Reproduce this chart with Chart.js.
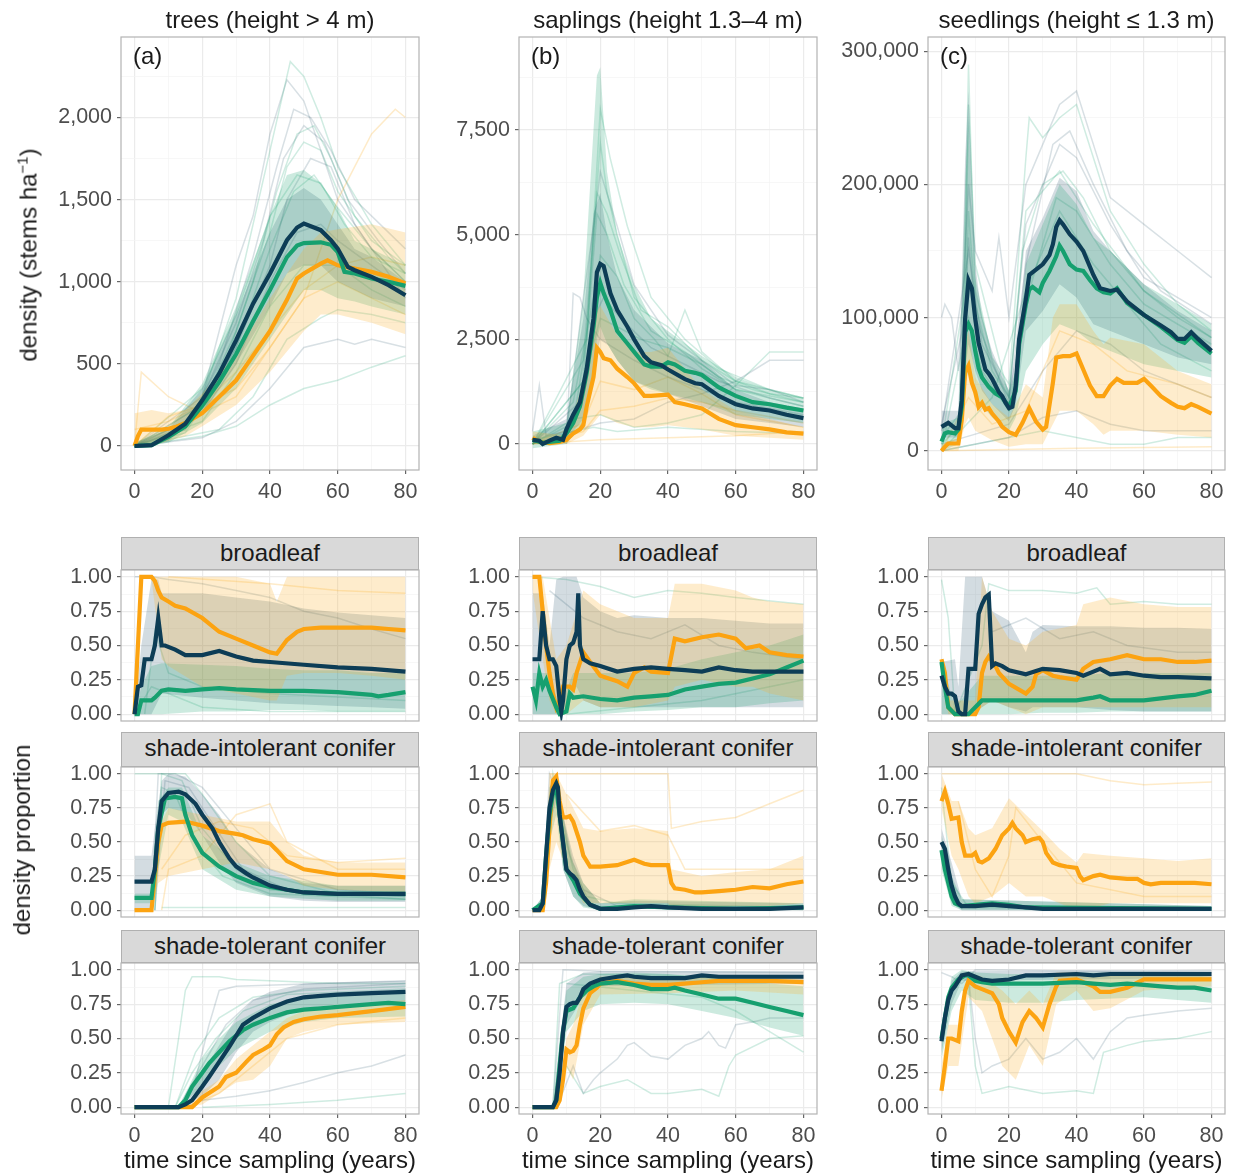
<!DOCTYPE html>
<html>
<head>
<meta charset="utf-8">
<script src="https://cdn.jsdelivr.net/npm/chart.js@4.4.1/dist/chart.umd.min.js"></script>
<style>
  body { margin: 0; background: #fff; font-family: "Liberation Sans", Arial, sans-serif; }
  #fig { position: relative; width: 1233px; height: 1176px; overflow: hidden; }
  canvas { position: absolute; }
  .txt { position: absolute; font-size: 24px; color: #1a1a1a; white-space: nowrap; line-height: 30px; }
  .ctr { text-align: center; }
  .strip { position: absolute; background: #d9d9d9; border: 1px solid #b0b0b0; box-sizing: border-box;
           font-size: 24px; color: #1a1a1a; text-align: center; line-height: 30px; }
  .rot { position: absolute; font-size: 24px; color: #1a1a1a; white-space: nowrap;
         transform: translate(-50%, -50%) rotate(-90deg); }
  sup { font-size: 15px; }
</style>
</head>
<body>
<div id="fig"></div>
<script>
// ---------- tick breaks ----------
const xMajor = [0, 20, 40, 60, 80];
const xMinor = [10, 30, 50, 70];
const treeMajor = [0, 500, 1000, 1500, 2000];
const treeMinor = [250, 750, 1250, 1750, 2250];
const saplingMajor = [0, 2500, 5000, 7500];
const saplingMinor = [1250, 3750, 6250, 8750];
const seedlingMajor = [0, 100000, 200000, 300000];
const seedlingMinor = [50000, 150000, 250000];
const propMajor = [0, 0.25, 0.5, 0.75, 1];
const propMinor = [0.125, 0.375, 0.625, 0.875];

const colTitles = ['trees (height > 4 m)', 'saplings (height 1.3–4 m)', 'seedlings (height ≤ 1.3 m)'];
const panelTags = ['(a)', '(b)', '(c)'];
const stripNames = ['broadleaf', 'shade-intolerant conifer', 'shade-tolerant conifer'];

// ---------- (a) trees: [year, value] ; bands [year, low, high] ----------
const treeOrange = [[0,0],[1,60],[2,100],[5,100],[8,100],[10,105],[12,115],[15,140],[20,200],[25,300],[30,400],[35,550],[40,700],[45,890],[48,1020],[50,1050],[55,1110],[57,1130],[60,1100],[65,1080],[70,1060],[75,1030],[80,990]];
const treeGreen = [[0,0],[5,5],[10,55],[15,120],[20,245],[25,390],[30,560],[35,760],[40,950],[45,1150],[48,1220],[50,1235],[55,1240],[58,1225],[60,1180],[62,1060],[65,1050],[70,1020],[75,1000],[80,975]];
const treeNavy = [[0,0],[5,5],[10,65],[15,136],[20,278],[25,440],[30,644],[35,867],[40,1050],[45,1253],[48,1330],[50,1354],[53,1330],[55,1314],[58,1253],[60,1202],[63,1090],[65,1070],[70,1030],[75,979],[80,918]];
const treeOrangeBand = [[0,0,200],[5,0,220],[10,30,200],[15,60,220],[20,120,320],[30,250,560],[40,450,900],[50,700,1200],[55,800,1300],[60,800,1320],[70,750,1350],[80,680,1300]];
const treeGreenBand = [[0,-10,20],[10,20,110],[20,140,380],[30,350,850],[40,650,1400],[45,800,1650],[50,950,1680],[55,950,1600],[60,900,1450],[65,880,1250],[70,850,1200],[80,800,1100]];
const treeNavyBand = [[0,-10,20],[10,30,100],[20,200,350],[30,500,800],[40,850,1300],[45,1050,1500],[50,1100,1570],[55,1100,1500],[60,1000,1350],[65,950,1200],[70,900,1150],[80,850,1000]];
const treeThin = [
  ['g', [[0,0],[15,100],[20,300],[30,900],[40,1800],[46,2340],[50,2250],[55,2000],[60,1700],[70,1350],[80,1100]]],
  ['n', [[0,0],[15,120],[20,300],[30,1100],[35,1400],[40,1900],[45,2230],[50,2100],[55,1800],[60,1500],[70,1200],[80,1000]]],
  ['g', [[0,0],[20,250],[30,700],[40,1300],[45,1700],[50,1850],[55,1800],[60,1550],[70,1250],[80,1100]]],
  ['o', [[0,0],[2,450],[10,300],[20,200],[30,300],[40,600],[50,900],[60,1500],[70,1900],[77,2050],[80,2000]]],
  ['n', [[0,0],[20,50],[30,150],[40,350],[50,600],[60,650],[65,620],[70,650],[80,600]]],
  ['g', [[0,0],[20,60],[30,120],[40,250],[50,350],[60,400],[70,480],[80,550]]],
  ['g', [[0,0],[25,100],[35,300],[45,650],[55,780],[60,830],[70,800],[80,750]]],
  ['n', [[0,0],[20,250],[30,600],[40,1100],[45,1500],[52,1750],[58,1700],[65,1350],[80,900]]],
  ['o', [[0,0],[10,180],[20,250],[30,350],[40,600],[50,900],[60,1000],[70,900],[80,800]]],
  ['g', [[0,0],[20,350],[30,800],[40,1400],[48,1650],[55,1600],[62,1350],[70,1150],[80,1050]]],
  ['n', [[0,0],[20,200],[30,500],[40,1000],[48,1300],[55,1350],[60,1250],[70,1100],[80,950]]],
  ['g', [[0,0],[15,80],[25,400],[35,1000],[42,1550],[48,1900],[53,1950],[58,1750],[65,1400],[75,1150],[80,1050]]],
  ['n', [[0,0],[15,100],[25,500],[35,1150],[42,1700],[47,2050],[52,2000],[58,1800],[65,1500],[80,1200]]],
  ['g', [[0,0],[20,200],[30,600],[40,1200],[47,1550],[53,1650],[60,1450],[70,1200],[80,1000]]],
  ['o', [[0,100],[10,150],[20,250],[30,450],[40,700],[50,950],[60,1100],[70,1150],[80,1100]]],
  ['g', [[0,0],[20,150],[30,450],[40,850],[50,1100],[60,1100],[70,950],[80,850]]],
  ['n', [[0,0],[20,300],[30,750],[38,1250],[44,1750],[50,1950],[56,1850],[63,1500],[72,1250],[80,1050]]]
];

// ---------- (b) saplings ----------
const saplingOrange = [[0,150],[2,50],[5,20],[8,50],[10,100],[12,250],[14,350],[15,450],[16,900],[18,1600],[19,2300],[20,2200],[21,2050],[23,2000],[25,1800],[28,1600],[30,1450],[33,1150],[35,1150],[38,1170],[40,1180],[42,1000],[45,950],[50,850],[55,600],[60,450],[65,400],[70,350],[75,280],[80,250]];
const saplingGreen = [[0,100],[3,30],[5,50],[8,80],[10,250],[12,500],[14,900],[16,1700],[18,2800],[19,3500],[20,3850],[21,3600],[23,3200],[25,2700],[28,2400],[30,2200],[33,1900],[35,1850],[38,1850],[40,1950],[42,1900],[45,1750],[48,1700],[50,1650],[55,1350],[60,1150],[65,1000],[70,950],[75,870],[80,800]];
const saplingNavy = [[0,100],[2,80],[3,0],[5,80],[7,150],[9,100],[10,350],[12,700],[14,1000],[16,1800],[17,2400],[18,3000],[19,4100],[20,4300],[21,4250],[23,3600],[25,3200],[28,2800],[30,2500],[33,2100],[35,1950],[38,1880],[40,1780],[45,1550],[48,1450],[50,1430],[55,1150],[60,950],[65,850],[70,800],[75,700],[80,620]];
const saplingOrangeBand = [[0,0,300],[10,0,200],[15,200,1500],[18,500,3000],[20,700,3300],[25,500,2600],[30,400,2200],[35,400,2200],[40,450,2300],[45,400,1800],[50,350,1300],[60,200,800],[70,150,600],[80,100,400]];
const saplingGreenBand = [[0,-100,300],[10,0,500],[15,500,3500],[18,1500,7500],[19,2500,8800],[20,2800,9000],[22,2400,6500],[25,2000,5000],[30,1500,3800],[35,1300,3000],[40,1200,2700],[50,1000,2100],[60,700,1600],[70,600,1300],[80,500,1100]];
const saplingNavyBand = [[0,0,200],[10,100,600],[15,600,3000],[18,1800,5500],[20,2500,6000],[22,2400,5000],[25,2000,4000],[30,1500,3200],[40,1200,2400],[50,900,2000],[60,600,1300],[70,500,1000],[80,400,850]];
const saplingThin = [
  ['g', [[0,0],[15,2000],[18,5000],[20,7200],[22,6000],[25,5000],[30,3500],[40,2500],[50,1800],[60,1300],[80,1000]]],
  ['n', [[0,300],[2,1400],[4,200],[10,300],[15,3500],[18,5200],[20,6500],[25,5200],[30,3800],[40,2600],[50,2000],[60,1400],[70,1300],[80,1000]]],
  ['g', [[0,0],[12,1000],[18,3500],[20,4500],[25,4000],[30,3000],[36,2500],[40,2100],[45,3200],[50,2200],[60,1500],[70,1200],[80,1100]]],
  ['n', [[0,0],[20,500],[30,600],[40,1000],[50,1200],[60,1500],[70,2000],[80,2000]]],
  ['g', [[0,0],[12,600],[20,700],[30,400],[40,500],[50,700],[60,1400],[70,2200],[80,2200]]],
  ['o', [[0,0],[20,100],[40,150],[60,200],[80,300]]],
  ['n', [[10,0],[12,3600],[14,3500],[16,3000],[20,2500],[30,2000],[40,1600],[60,1000],[80,700]]],
  ['g', [[0,100],[18,400],[25,300],[40,400],[60,300],[80,250]]],
  ['g', [[0,0],[15,1500],[19,6000],[22,5500],[26,4500],[32,3200],[40,2800],[50,2000],[60,1500],[80,1100]]],
  ['o', [[0,0],[15,500],[20,1500],[30,1300],[40,1600],[50,1200],[60,700],[80,400]]],
  ['g', [[0,0],[12,500],[16,2500],[19,5500],[22,5000],[27,3800],[35,2700],[45,2200],[55,1600],[65,1300],[80,1000]]],
  ['n', [[0,0],[14,1000],[18,3000],[21,3500],[26,3000],[35,2300],[45,1900],[55,1500],[70,1100],[80,900]]],
  ['g', [[0,0],[15,1500],[20,3000],[25,2800],[32,2500],[40,2300],[50,1900],[60,1300],[70,1100],[80,900]]],
  ['o', [[0,0],[15,300],[20,800],[30,900],[40,1100],[50,1000],[60,800],[80,500]]],
  ['g', [[0,0],[16,2500],[20,8000],[23,6800],[28,5200],[35,3500],[45,2500],[55,1800],[70,1300],[80,1100]]]
];

// ---------- (c) seedlings ----------
const seedlingOrange = [[0,0],[1,3000],[2,5500],[5,5500],[6,23000],[7,59000],[8,64000],[9,51000],[10,44000],[11,33000],[12,36000],[13,31000],[14,32000],[15,28000],[16,25000],[17,22000],[18,18000],[20,14000],[22,12000],[24,21000],[26,32000],[28,22000],[30,16000],[31,18000],[33,51000],[34,70000],[36,71000],[38,71000],[40,73000],[42,61000],[44,49000],[46,41000],[48,41000],[50,49000],[52,54000],[54,51000],[56,51000],[58,51000],[60,54000],[62,49000],[65,41000],[68,36000],[70,33000],[72,32000],[74,35000],[76,33000],[80,28000]];
const seedlingGreen = [[0,7000],[1,13000],[2,14000],[4,13000],[5,16000],[6,33000],[7,89000],[8,95000],[9,90000],[10,75000],[11,62000],[12,55000],[14,48000],[16,43000],[18,40000],[20,33000],[22,45000],[23,80000],[25,110000],[26,121000],[27,123000],[28,121000],[29,119000],[30,126000],[32,135000],[34,146000],[35,154000],[36,150000],[38,140000],[40,136000],[42,135000],[44,128000],[46,122000],[48,119000],[50,118000],[52,122000],[55,111000],[60,102000],[65,93000],[70,83000],[72,81000],[74,86000],[76,81000],[80,73000]];
const seedlingNavy = [[0,18000],[2,21000],[4,17000],[5,17000],[6,38000],[7,99000],[8,128000],[9,122000],[10,99000],[11,81000],[12,71000],[13,61000],[14,58000],[15,54000],[16,49000],[17,44000],[18,41000],[19,36000],[20,32000],[21,33000],[22,49000],[23,84000],[25,114000],[26,132000],[28,136000],[30,140000],[32,147000],[33,155000],[34,168000],[35,173000],[36,170000],[38,162500],[40,157000],[42,150000],[45,132000],[47,122000],[50,120000],[52,121000],[55,112000],[60,102000],[65,94000],[68,89000],[70,84000],[72,84000],[74,89000],[76,84000],[80,75000]];
const seedlingOrangeBand = [[0,0,5000],[5,0,10000],[7,20000,80000],[8,25000,90000],[10,15000,55000],[15,8000,35000],[20,3000,25000],[25,5000,50000],[30,5000,40000],[33,20000,100000],[35,30000,110000],[40,30000,110000],[45,20000,90000],[48,12000,80000],[50,15000,85000],[60,15000,80000],[70,12000,60000],[80,10000,50000]];
const seedlingGreenBand = [[0,0,20000],[5,5000,25000],[7,50000,200000],[8,60000,250000],[9,50000,180000],[10,40000,130000],[15,25000,70000],[20,15000,45000],[22,25000,60000],[25,60000,140000],[30,80000,170000],[35,95000,200000],[40,90000,185000],[45,80000,160000],[50,75000,150000],[60,65000,125000],[70,60000,110000],[80,55000,95000]];
const seedlingNavyBand = [[0,10000,30000],[5,10000,30000],[7,60000,220000],[8,80000,270000],[9,70000,200000],[10,60000,140000],[12,45000,100000],[15,35000,75000],[20,22000,45000],[22,35000,70000],[25,90000,150000],[30,105000,175000],[35,125000,205000],[40,115000,195000],[45,95000,165000],[50,90000,150000],[60,80000,125000],[70,70000,105000],[80,65000,90000]];
const seedlingThin = [
  ['n', [[0,100000],[1,110000],[3,100000],[5,60000],[7,150000],[8,200000],[10,150000],[15,120000],[17,160000],[20,100000],[25,200000],[30,230000],[35,260000],[40,270000],[45,230000],[50,190000],[60,170000],[70,150000],[80,130000]]],
  ['g', [[0,10000],[6,30000],[8,290000],[9,200000],[10,120000],[15,70000],[20,50000],[25,220000],[26,250000],[30,235000],[35,250000],[40,260000],[45,220000],[50,180000],[60,140000],[70,110000],[80,90000]]],
  ['n', [[0,15000],[8,150000],[12,80000],[20,40000],[25,170000],[30,200000],[35,230000],[40,220000],[50,170000],[60,130000],[80,100000]]],
  ['g', [[0,0],[10,5000],[20,10000],[30,15000],[40,10000],[50,5000],[60,5000],[70,10000],[80,10000]]],
  ['n', [[0,0],[20,10000],[30,25000],[40,30000],[50,20000],[60,15000],[80,15000]]],
  ['o', [[0,0],[40,2000],[80,3000]]],
  ['g', [[0,0],[15,40000],[25,120000],[35,180000],[45,140000],[55,110000],[65,80000],[80,60000]]],
  ['g', [[0,5000],[7,120000],[8,260000],[10,140000],[20,40000],[25,180000],[35,210000],[45,170000],[60,120000],[80,85000]]],
  ['n', [[0,5000],[20,20000],[30,60000],[40,90000],[50,80000],[60,60000],[80,40000]]],
  ['g', [[0,5000],[6,20000],[8,180000],[10,110000],[15,60000],[20,40000],[24,150000],[30,200000],[36,210000],[42,190000],[50,150000],[60,120000],[70,100000],[80,85000]]],
  ['n', [[0,20000],[7,100000],[8,160000],[10,100000],[20,35000],[25,140000],[33,230000],[38,240000],[45,200000],[55,150000],[65,120000],[80,95000]]],
  ['g', [[0,0],[8,100000],[12,60000],[20,30000],[26,120000],[34,190000],[40,180000],[50,140000],[60,110000],[80,80000]]],
  ['o', [[0,0],[8,40000],[15,20000],[25,30000],[35,90000],[45,80000],[55,60000],[70,50000],[80,40000]]]
];

// ---------- broadleaf proportions ----------
const blTreeOrange = [[0,0],[1,0.5],[2,1],[5,1],[6,0.97],[7,0.9],[8,0.85],[10,0.82],[12,0.79],[15,0.77],[20,0.7],[25,0.6],[30,0.55],[35,0.5],[40,0.45],[42,0.44],[45,0.54],[48,0.6],[50,0.62],[55,0.63],[60,0.63],[70,0.63],[75,0.62],[80,0.61]];
const blTreeGreen = [[0,0],[1,0],[2,0.1],[5,0.1],[6,0.12],[8,0.17],[10,0.18],[15,0.17],[20,0.18],[25,0.19],[30,0.18],[40,0.17],[50,0.17],[60,0.16],[70,0.14],[72,0.13],[75,0.14],[80,0.16]];
const blTreeNavy = [[0,0],[1,0.2],[2,0.21],[3,0.4],[5,0.4],[6,0.5],[7,0.7],[8,0.5],[9,0.5],[12,0.47],[15,0.43],[20,0.43],[25,0.46],[30,0.42],[35,0.39],[40,0.38],[50,0.36],[60,0.34],[70,0.33],[80,0.31]];
const blTreeOrangeBand = [[0,0,0],[2,1,1],[5,0.98,1],[8,0.4,1],[10,0.35,1],[20,0.2,1],[30,0.15,1],[40,0.1,0.95],[42,0.1,0.82],[45,0.28,1],[50,0.3,1],[60,0.3,1],[70,0.28,1],[80,0.25,1]];
const blTreeGreenBand = [[0,0,0],[2,0,0.2],[5,0,0.35],[8,0,0.37],[20,0.02,0.36],[30,0.02,0.35],[40,0.03,0.33],[50,0.03,0.32],[60,0.02,0.32],[70,0.02,0.3],[80,0.02,0.3]];
const blTreeNavyBand = [[0,0,0],[2,0,0.5],[5,0,0.98],[7,0.1,0.98],[8,0.15,0.88],[20,0.12,0.88],[30,0.1,0.85],[40,0.08,0.82],[50,0.07,0.77],[60,0.06,0.74],[70,0.05,0.72],[80,0.04,0.7]];
const blTreeThin = [
  ['n', [[0,1],[5,1],[10,0.98],[20,0.95],[30,0.9],[40,0.85],[50,0.75],[60,0.7],[70,0.62],[80,0.55]]],
  ['g', [[0,0],[5,0.2],[10,0.15],[20,0.05],[40,0.02],[80,0.02]]],
  ['o', [[10,1],[40,0.95],[60,0.9],[80,0.88]]],
  ['g', [[3,0],[6,0.6],[10,0.3],[20,0.2],[40,0.15],[80,0.1]]]
];

const blSaplingOrange = [[0,1],[2,1],[3,0.75],[4,0.5],[5,0.3],[6,0.15],[7,0.05],[8,0.1],[9,0.2],[11,0.2],[12,0.18],[13,0.3],[15,0.45],[17,0.38],[20,0.28],[25,0.24],[28,0.2],[30,0.3],[33,0.34],[35,0.31],[40,0.3],[42,0.55],[45,0.53],[50,0.56],[55,0.58],[60,0.55],[63,0.48],[67,0.5],[70,0.45],[75,0.43],[80,0.42]];
const blSaplingGreen = [[0,0.2],[1,0.1],[2,0.3],[3,0.2],[4,0.25],[5,0.17],[7,0.05],[8,0],[10,0.02],[11,0.15],[12,0.12],[15,0.13],[20,0.11],[25,0.1],[30,0.12],[35,0.13],[40,0.14],[45,0.18],[50,0.2],[55,0.22],[60,0.23],[65,0.26],[70,0.29],[75,0.34],[80,0.39]];
const blSaplingNavy = [[0,0.4],[2,0.4],[3,0.75],[4,0.5],[5,0.4],[6,0.4],[7,0.35],[8,0.1],[8.5,0.02],[9,0.1],[10,0.4],[11,0.5],[12,0.52],[13,0.6],[13.5,0.88],[14,0.5],[15,0.4],[17,0.37],[20,0.35],[25,0.31],[30,0.33],[35,0.34],[40,0.33],[45,0.32],[50,0.31],[55,0.34],[60,0.32],[65,0.31],[70,0.31],[80,0.31]];
const blSaplingOrangeBand = [[0,0.9,1],[3,0.4,1],[5,0.1,0.7],[7,0,0.4],[10,0,0.5],[15,0.1,0.9],[20,0.05,0.8],[30,0.05,0.7],[40,0.1,0.7],[42,0.2,0.95],[50,0.25,0.95],[60,0.2,0.9],[65,0.2,0.85],[70,0.15,0.82],[80,0.1,0.8]];
const blSaplingGreenBand = [[0,0,0.3],[5,0,0.3],[8,0,0.05],[12,0,0.3],[20,0,0.3],[30,0.02,0.3],[40,0.03,0.33],[50,0.05,0.4],[60,0.05,0.45],[70,0.08,0.5],[80,0.1,0.58]];
const blSaplingNavyBand = [[0,0,0.88],[3,0,0.88],[5,0,0.5],[7,0,0.98],[9,0,1],[13,0.2,1],[15,0.1,0.85],[20,0.05,0.75],[25,0.05,0.7],[30,0.05,0.72],[40,0.05,0.7],[50,0.05,0.7],[60,0.05,0.68],[70,0.05,0.66],[80,0.05,0.66]];
const blSaplingThin = [
  ['g', [[0,1],[10,0.98],[20,0.93],[30,0.85],[40,0.9],[50,0.88],[60,0.85],[80,0.8]]],
  ['n', [[5,0.9],[15,0.7],[25,0.6],[35,0.55],[45,0.65],[55,0.5],[65,0.45],[80,0.4]]],
  ['g', [[10,0],[30,0.05],[50,0.1],[70,0.2],[80,0.25]]]
];

const blSeedlingOrange = [[0,0.4],[1,0.3],[2,0.05],[4,0],[6,0],[10,0],[11,0.05],[12,0.3],[13,0.38],[14,0.42],[16,0.35],[17,0.3],[20,0.22],[25,0.15],[27,0.2],[28,0.29],[30,0.32],[33,0.28],[35,0.27],[40,0.25],[42,0.33],[45,0.38],[50,0.4],[55,0.43],[60,0.4],[65,0.4],[70,0.38],[75,0.38],[80,0.39]];
const blSeedlingGreen = [[0,0.38],[1,0.2],[2,0.05],[4,0],[8,0],[10,0.05],[12,0.1],[15,0.1],[20,0.1],[30,0.1],[40,0.1],[45,0.12],[47,0.13],[50,0.1],[60,0.1],[70,0.13],[75,0.14],[80,0.17]];
const blSeedlingNavy = [[0,0.28],[1,0.2],[2,0.15],[3,0.15],[4,0.13],[5,0.02],[6,0],[7,0],[8,0.33],[10,0.33],[11,0.73],[12,0.8],[13,0.85],[14,0.87],[15,0.35],[16,0.37],[18,0.35],[20,0.32],[25,0.29],[30,0.33],[35,0.32],[40,0.3],[42,0.28],[45,0.31],[47,0.33],[50,0.29],[55,0.3],[60,0.28],[65,0.27],[70,0.27],[80,0.26]];
const blSeedlingOrangeBand = [[0,0.3,0.42],[2,0,0.1],[10,0,0.1],[12,0.05,1],[15,0.1,0.75],[20,0.05,0.55],[25,0,0.5],[30,0.05,0.6],[40,0.05,0.65],[42,0.05,0.8],[50,0.05,0.85],[60,0.05,0.8],[70,0.05,0.78],[80,0.05,0.78]];
const blSeedlingGreenBand = [[0,0,0.4],[4,0,0.05],[12,0,0.28],[20,0,0.28],[30,0.01,0.28],[40,0.01,0.28],[50,0.02,0.3],[60,0.02,0.3],[70,0.02,0.3],[80,0.02,0.3]];
const blSeedlingNavyBand = [[0,0,0.38],[4,0,0.4],[5,0,0.2],[7,0,1],[12,0.05,1],[15,0.1,0.75],[20,0.05,0.68],[25,0.02,0.45],[27,0.05,0.6],[30,0.05,0.65],[40,0.05,0.64],[50,0.03,0.64],[60,0.02,0.63],[70,0.02,0.63],[80,0.02,0.62]];
const blSeedlingThin = [
  ['g', [[0,0.98],[2,0.7],[4,0],[12,0.5],[14,0.95],[20,0.9],[30,0.9],[40,0.88],[46,0.92],[50,0.8],[60,0.82],[70,0.8],[80,0.8]]],
  ['n', [[15,0.6],[25,0.7],[35,0.55],[45,0.6],[55,0.5],[70,0.45],[80,0.45]]]
];

// ---------- shade-intolerant conifer proportions ----------
const siTreeOrange = [[0,0],[5,0],[6,0.25],[7,0.5],[8,0.62],[10,0.64],[15,0.65],[20,0.62],[25,0.58],[30,0.56],[32,0.55],[35,0.52],[40,0.49],[42,0.44],[45,0.36],[50,0.3],[55,0.28],[60,0.26],[70,0.26],[80,0.24]];
const siTreeGreen = [[0,0.09],[5,0.09],[6,0.3],[7,0.6],[9,0.82],[12,0.83],[14,0.82],[15,0.7],[17,0.55],[20,0.42],[25,0.32],[30,0.25],[35,0.2],[40,0.17],[50,0.13],[60,0.12],[80,0.12]];
const siTreeNavy = [[0,0.21],[5,0.21],[6,0.3],[7,0.6],[8,0.8],[10,0.86],[13,0.87],[15,0.85],[18,0.78],[20,0.7],[23,0.6],[25,0.5],[28,0.38],[30,0.32],[33,0.27],[35,0.24],[40,0.18],[45,0.15],[50,0.13],[60,0.12],[70,0.12],[80,0.12]];
const siTreeOrangeBand = [[0,0,0],[5,0,0],[7,0.2,0.6],[10,0.25,0.75],[20,0.3,0.7],[30,0.35,0.65],[40,0.3,0.65],[45,0.25,0.5],[50,0.18,0.4],[60,0.15,0.35],[80,0.13,0.35]];
const siTreeGreenBand = [[0,0.05,0.12],[5,0.05,0.12],[7,0.3,0.8],[10,0.7,0.9],[14,0.65,0.9],[20,0.3,0.55],[30,0.15,0.35],[40,0.1,0.25],[60,0.07,0.18],[80,0.07,0.18]];
const siTreeNavyBand = [[0,0,0.4],[5,0,0.4],[6,0.2,0.6],[8,0.7,0.95],[10,0.75,1],[15,0.72,0.98],[20,0.55,0.85],[25,0.35,0.7],[30,0.2,0.5],[40,0.1,0.3],[50,0.07,0.2],[60,0.06,0.18],[80,0.06,0.18]];
const siTreeThin = [
  ['g', [[0,1],[5,1],[8,1],[15,1],[20,0.85],[30,0.5],[40,0.25],[60,0.12],[80,0.1]]],
  ['n', [[0,0],[5,0],[7,1],[12,1],[20,0.9],[30,0.6],[40,0.3],[60,0.15],[80,0.12]]],
  ['o', [[8,0],[10,0.3],[20,0.4],[30,0.7],[40,0.78],[45,0.5],[60,0.3],[80,0.3]]],
  ['g', [[8,0.02],[80,0.02]]],
  ['g', [[6,0],[8,1],[14,0.95],[20,0.6],[30,0.3],[40,0.15],[80,0.08]]],
  ['o', [[8,0.3],[15,0.55],[25,0.65],[35,0.6],[45,0.4],[60,0.35],[80,0.38]]],
  ['n', [[6,0],[9,0.95],[16,0.9],[24,0.6],[32,0.3],[45,0.15],[80,0.1]]],
  ['g', [[6,0],[8,0.9],[12,0.85],[18,0.5],[26,0.25],[40,0.12],[80,0.08]]]
];

const siSaplingOrange = [[0,0],[3,0],[4,0.2],[5,0.6],[6,0.95],[7,0.98],[8,0.8],[9,0.68],[10,0.68],[11,0.69],[12,0.65],[14,0.5],[15,0.4],[17,0.32],[20,0.32],[25,0.33],[30,0.37],[33,0.34],[35,0.33],[40,0.33],[41,0.2],[42,0.16],[45,0.15],[48,0.13],[50,0.13],[55,0.14],[60,0.15],[65,0.17],[70,0.16],[75,0.19],[80,0.21]];
const siSaplingGreen = [[0,0],[3,0.05],[4,0.4],[5,0.7],[6,0.85],[7,0.9],[8,0.7],[10,0.3],[12,0.22],[14,0.12],[17,0.04],[20,0.01],[30,0.03],[40,0.02],[60,0.01],[80,0.02]];
const siSaplingNavy = [[0,0],[2,0],[3,0.05],[4,0.4],[5,0.75],[6,0.88],[7,0.93],[7.5,0.9],[8,0.7],[9,0.5],[10,0.3],[11,0.27],[12,0.25],[13,0.22],[14,0.15],[15,0.1],[17,0.04],[20,0.01],[25,0.01],[30,0.02],[35,0.03],[40,0.02],[50,0.01],[60,0.01],[70,0.01],[80,0.02]];
const siSaplingOrangeBand = [[0,0,0],[3,0,0],[5,0.3,1],[7,0.5,1],[10,0.3,0.85],[15,0.05,0.6],[20,0.05,0.58],[30,0.05,0.6],[40,0.05,0.58],[41,0.02,0.3],[50,0.02,0.25],[60,0.03,0.28],[70,0.03,0.3],[80,0.05,0.4]];
const siSaplingGreenBand = [[0,0,0],[3,0,0.1],[5,0.5,0.9],[7,0.7,1],[9,0.3,0.7],[12,0.1,0.35],[15,0.02,0.2],[20,0,0.05],[30,0.01,0.08],[80,0,0.05]];
const siSaplingNavyBand = [[0,0,0],[3,0,0.1],[5,0.6,0.9],[7,0.8,1],[9,0.3,0.7],[12,0.1,0.4],[15,0.03,0.2],[20,0,0.05],[30,0.01,0.07],[80,0,0.05]];
const siSaplingThin = [
  ['o', [[5,1],[40,1],[41,0.6],[50,0.65],[60,0.68],[70,0.78],[80,0.88]]],
  ['o', [[10,0.85],[20,0.58],[30,0.62],[40,0.55],[45,0.3],[80,0.3]]],
  ['g', [[3,0],[6,1],[9,0.6],[12,0.3],[16,0.1],[25,0.05],[80,0.02]]],
  ['n', [[3,0],[5,1],[8,0.8],[11,0.4],[15,0.15],[25,0.03],[80,0.02]]]
];

const siSeedlingOrange = [[0,0.8],[1,0.87],[2,0.78],[3,0.67],[5,0.68],[6,0.5],[7,0.4],[9,0.4],[10,0.42],[11,0.36],[12,0.35],[14,0.38],[16,0.45],[18,0.55],[20,0.6],[21,0.64],[22,0.6],[24,0.55],[25,0.5],[27,0.52],[29,0.53],[30,0.5],[31,0.42],[33,0.35],[35,0.33],[37,0.32],[40,0.31],[41,0.25],[42,0.22],[45,0.25],[47,0.26],[50,0.24],[55,0.23],[58,0.23],[60,0.2],[62,0.19],[65,0.2],[70,0.2],[75,0.2],[80,0.19]];
const siSeedlingGreen = [[0,0.44],[1,0.3],[2,0.2],[3,0.1],[4,0.05],[6,0.03],[10,0.04],[15,0.05],[20,0.04],[25,0.02],[80,0.01]];
const siSeedlingNavy = [[0,0.5],[1,0.45],[2,0.3],[3,0.18],[4,0.1],[5,0.05],[6,0.03],[10,0.03],[15,0.04],[20,0.03],[25,0.02],[30,0.01],[80,0.01]];
const siSeedlingOrangeBand = [[0,0.75,1],[3,0.4,0.8],[5,0.3,0.8],[8,0.1,0.6],[10,0.05,0.55],[15,0.1,0.6],[20,0.2,0.82],[25,0.1,0.7],[30,0.1,0.58],[35,0.05,0.45],[40,0,0.35],[42,0,0.42],[50,0.05,0.4],[60,0.05,0.38],[70,0.05,0.36],[80,0.05,0.38]];
const siSeedlingGreenBand = [[0,0.3,0.55],[3,0.03,0.25],[6,0,0.08],[80,0,0.03]];
const siSeedlingNavyBand = [[0,0.4,0.6],[3,0.05,0.35],[6,0,0.08],[80,0,0.03]];
const siSeedlingThin = [
  ['o', [[0,1],[40,1],[50,0.95],[60,0.92],[70,0.93],[80,0.94]]],
  ['o', [[5,0.8],[10,0.3],[15,0.1],[20,0.4],[22,0.75],[30,0.5],[40,0.2],[60,0.1],[80,0.1]]],
  ['g', [[0,0.9],[3,0.2],[8,0.02],[80,0.01]]]
];

// ---------- shade-tolerant conifer proportions ----------
const stTreeOrange = [[0,0],[15,0],[17,0],[20,0.07],[25,0.15],[27,0.22],[30,0.25],[33,0.33],[35,0.38],[38,0.42],[40,0.45],[42,0.53],[44,0.58],[47,0.62],[50,0.64],[55,0.66],[60,0.67],[70,0.7],[80,0.73]];
const stTreeGreen = [[0,0],[13,0],[15,0.05],[17,0.15],[20,0.25],[22,0.32],[25,0.4],[28,0.48],[30,0.52],[32,0.56],[35,0.6],[40,0.65],[45,0.69],[50,0.71],[55,0.72],[60,0.73],[70,0.75],[75,0.76],[80,0.75]];
const stTreeNavy = [[0,0],[13,0],[15,0.02],[17,0.05],[20,0.15],[22,0.22],[25,0.33],[28,0.44],[30,0.52],[32,0.6],[35,0.65],[40,0.72],[45,0.77],[50,0.8],[55,0.81],[60,0.82],[70,0.83],[80,0.84]];
const stTreeOrangeBand = [[0,0,0],[15,0,0],[20,0.02,0.12],[25,0.1,0.2],[30,0.18,0.35],[35,0.2,0.45],[40,0.3,0.55],[45,0.5,0.65],[50,0.55,0.7],[60,0.6,0.73],[80,0.62,0.78]];
const stTreeGreenBand = [[0,0,0],[13,0,0],[20,0.15,0.35],[25,0.3,0.5],[30,0.42,0.62],[40,0.55,0.75],[50,0.62,0.8],[60,0.65,0.82],[80,0.66,0.84]];
const stTreeNavyBand = [[0,0,0],[13,0,0],[20,0.08,0.25],[25,0.2,0.45],[30,0.4,0.65],[35,0.55,0.78],[40,0.62,0.84],[50,0.72,0.9],[60,0.75,0.91],[80,0.76,0.92]];
const stTreeThin = [
  ['g', [[10,0],[13,0.5],[15,0.85],[17,0.95],[25,0.95],[30,0.93],[40,0.92],[60,0.9],[80,0.9]]],
  ['n', [[15,0],[20,0.05],[30,0.08],[40,0.12],[50,0.18],[60,0.25],[70,0.3],[80,0.38]]],
  ['g', [[20,0],[40,0.02],[60,0.05],[80,0.1]]],
  ['n', [[18,0.2],[22,0.6],[25,0.85],[30,0.88],[80,0.92]]],
  ['g', [[12,0],[18,0.4],[25,0.65],[35,0.8],[50,0.85],[80,0.88]]],
  ['o', [[15,0],[25,0.1],[35,0.3],[45,0.5],[60,0.6],[80,0.65]]],
  ['g', [[12,0],[17,0.25],[24,0.5],[32,0.7],[45,0.82],[80,0.86]]],
  ['n', [[13,0],[20,0.3],[27,0.6],[35,0.78],[50,0.86],[80,0.9]]]
];

const stSaplingOrange = [[0,0],[7,0],[8,0.05],[9,0.2],[10,0.42],[11,0.4],[12,0.41],[13,0.45],[14,0.6],[15,0.72],[17,0.83],[19,0.87],[20,0.9],[25,0.92],[30,0.9],[35,0.89],[40,0.89],[45,0.9],[50,0.91],[55,0.92],[60,0.92],[70,0.92],[80,0.91]];
const stSaplingGreen = [[0,0],[6,0],[7,0.05],[8,0.3],[9,0.55],[10,0.7],[12,0.72],[14,0.8],[16,0.85],[18,0.88],[20,0.9],[25,0.91],[30,0.89],[35,0.86],[40,0.86],[42,0.87],[45,0.85],[50,0.82],[55,0.79],[60,0.79],[65,0.76],[70,0.73],[75,0.7],[80,0.67]];
const stSaplingNavy = [[0,0],[6,0],[7,0.05],[8,0.25],[9,0.55],[10,0.73],[11,0.75],[12,0.76],[13,0.76],[14,0.8],[15,0.86],[17,0.9],[20,0.93],[25,0.95],[28,0.96],[30,0.95],[35,0.94],[40,0.94],[45,0.94],[50,0.96],[55,0.95],[60,0.95],[65,0.95],[70,0.95],[80,0.95]];
const stSaplingOrangeBand = [[0,0,0],[7,0,0],[10,0.3,0.5],[12,0.2,0.6],[15,0.6,0.85],[20,0.82,0.95],[40,0.83,0.95],[60,0.85,0.96],[80,0.82,0.95]];
const stSaplingGreenBand = [[0,0,0],[6,0,0],[8,0.2,0.5],[10,0.55,0.85],[15,0.7,0.95],[20,0.75,0.97],[30,0.76,0.98],[40,0.75,0.97],[50,0.7,0.95],[60,0.65,0.93],[70,0.58,0.9],[80,0.52,0.88]];
const stSaplingNavyBand = [[0,0,0],[6,0,0],[8,0.2,0.45],[10,0.6,0.9],[15,0.8,0.98],[20,0.88,0.99],[80,0.9,0.99]];
const stSaplingThin = [
  ['n', [[8,0.05],[12,0.3],[15,0.1],[18,0.2],[20,0.25],[25,0.35],[28,0.45],[30,0.47],[35,0.37],[40,0.35],[45,0.45],[50,0.5],[52,0.55],[55,0.45],[57,0.43],[60,0.6],[65,0.62],[70,0.65],[80,0.65]]],
  ['g', [[10,0.3],[15,0.1],[20,0.15],[28,0.2],[35,0.1],[40,0.1],[50,0.13],[55,0.08],[58,0.3],[60,0.38],[70,0.5],[80,0.52]]],
  ['g', [[10,0.9],[30,0.85],[50,0.8],[60,0.7],[70,0.55],[80,0.4]]],
  ['n', [[6,0],[9,1],[20,0.99],[80,0.98]]],
  ['g', [[6,0],[8,0.9],[15,0.97],[40,0.96],[80,0.9]]]
];

const stSeedlingOrange = [[0,0.12],[1,0.3],[2,0.5],[3,0.5],[4,0.49],[5,0.48],[6,0.7],[7,0.85],[8,0.92],[9,0.9],[10,0.88],[12,0.86],[15,0.83],[17,0.75],[18,0.65],[20,0.55],[22,0.47],[24,0.62],[26,0.7],[28,0.65],[30,0.58],[32,0.75],[34,0.88],[35,0.92],[40,0.93],[45,0.88],[47,0.84],[50,0.84],[55,0.87],[60,0.93],[70,0.93],[80,0.93]];
const stSeedlingGreen = [[0,0.5],[1,0.65],[2,0.8],[3,0.87],[5,0.93],[7,0.96],[8,0.96],[10,0.92],[12,0.91],[15,0.9],[20,0.9],[30,0.9],[40,0.91],[45,0.9],[50,0.89],[55,0.9],[60,0.89],[65,0.88],[70,0.87],[75,0.87],[80,0.85]];
const stSeedlingNavy = [[0,0.48],[1,0.65],[2,0.78],[3,0.85],[4,0.88],[5,0.92],[6,0.96],[8,0.97],[10,0.95],[12,0.93],[15,0.92],[20,0.93],[25,0.96],[30,0.96],[40,0.97],[45,0.96],[50,0.97],[60,0.97],[70,0.97],[80,0.97]];
const stSeedlingOrangeBand = [[0,0.05,0.3],[2,0.3,0.6],[5,0.3,0.6],[8,0.8,0.98],[12,0.7,0.95],[18,0.3,0.85],[22,0.2,0.75],[26,0.45,0.85],[30,0.3,0.75],[34,0.75,0.98],[40,0.85,0.98],[45,0.7,0.97],[50,0.72,0.97],[60,0.85,0.98],[80,0.88,0.98]];
const stSeedlingGreenBand = [[0,0.35,0.55],[3,0.7,0.95],[6,0.85,1],[10,0.78,0.98],[20,0.76,0.97],[30,0.76,0.97],[40,0.78,0.98],[60,0.8,0.98],[80,0.76,0.95]];
const stSeedlingNavyBand = [[0,0.4,0.55],[3,0.75,0.92],[6,0.92,0.99],[80,0.94,1]];
const stSeedlingThin = [
  ['n', [[8,0.95],[10,0.5],[12,0.25],[15,0.3],[20,0.35],[25,0.5],[30,0.35],[35,0.4],[40,0.5],[45,0.35],[50,0.55],[55,0.65],[60,0.67],[70,0.7],[80,0.72]]],
  ['g', [[8,0.9],[10,0.3],[12,0.1],[20,0.15],[30,0.1],[40,0.12],[45,0.1],[48,0.4],[55,0.45],[60,0.48],[70,0.5],[80,0.55]]],
  ['n', [[0,0.98],[3,0.95],[6,0.9],[10,1],[80,0.98]]]
];

// ---------- look ----------
const LINE = { o: '#FCA311', g: '#16A06F', n: '#0D3D56' };
const BAND = { o: 'rgba(252,175,40,0.24)', g: 'rgba(22,160,111,0.22)', n: 'rgba(13,61,86,0.18)' };
const THIN = { o: 'rgba(252,175,40,0.25)', g: 'rgba(22,160,111,0.2)', n: 'rgba(13,61,86,0.16)' };

const colLeft = [121, 519, 928];
const colWidth = [298, 298, 297];
const rowTop = [37, 570, 767, 963];
const rowHeight = [433, 151, 150, 151];
const stripTop = [0, 537, 732, 930];

const intFmt = v => v.toLocaleString('en-US');
const propFmt = v => v.toFixed(2);

const panels = [
  { row: 0, col: 0, yMin: -146, yMax: 2490, major: treeMajor, minor: treeMinor, fmt: intFmt,
    o: treeOrange, g: treeGreen, n: treeNavy, ob: treeOrangeBand, gb: treeGreenBand, nb: treeNavyBand, thin: treeThin },
  { row: 0, col: 1, yMin: -620, yMax: 9720, major: saplingMajor, minor: saplingMinor, fmt: intFmt,
    o: saplingOrange, g: saplingGreen, n: saplingNavy, ob: saplingOrangeBand, gb: saplingGreenBand, nb: saplingNavyBand, thin: saplingThin },
  { row: 0, col: 2, yMin: -14400, yMax: 310600, major: seedlingMajor, minor: seedlingMinor, fmt: intFmt,
    o: seedlingOrange, g: seedlingGreen, n: seedlingNavy, ob: seedlingOrangeBand, gb: seedlingGreenBand, nb: seedlingNavyBand, thin: seedlingThin },
  { row: 1, col: 0, o: blTreeOrange, g: blTreeGreen, n: blTreeNavy, ob: blTreeOrangeBand, gb: blTreeGreenBand, nb: blTreeNavyBand, thin: blTreeThin },
  { row: 1, col: 1, o: blSaplingOrange, g: blSaplingGreen, n: blSaplingNavy, ob: blSaplingOrangeBand, gb: blSaplingGreenBand, nb: blSaplingNavyBand, thin: blSaplingThin },
  { row: 1, col: 2, o: blSeedlingOrange, g: blSeedlingGreen, n: blSeedlingNavy, ob: blSeedlingOrangeBand, gb: blSeedlingGreenBand, nb: blSeedlingNavyBand, thin: blSeedlingThin },
  { row: 2, col: 0, o: siTreeOrange, g: siTreeGreen, n: siTreeNavy, ob: siTreeOrangeBand, gb: siTreeGreenBand, nb: siTreeNavyBand, thin: siTreeThin },
  { row: 2, col: 1, o: siSaplingOrange, g: siSaplingGreen, n: siSaplingNavy, ob: siSaplingOrangeBand, gb: siSaplingGreenBand, nb: siSaplingNavyBand, thin: siSaplingThin },
  { row: 2, col: 2, o: siSeedlingOrange, g: siSeedlingGreen, n: siSeedlingNavy, ob: siSeedlingOrangeBand, gb: siSeedlingGreenBand, nb: siSeedlingNavyBand, thin: siSeedlingThin },
  { row: 3, col: 0, o: stTreeOrange, g: stTreeGreen, n: stTreeNavy, ob: stTreeOrangeBand, gb: stTreeGreenBand, nb: stTreeNavyBand, thin: stTreeThin },
  { row: 3, col: 1, o: stSaplingOrange, g: stSaplingGreen, n: stSaplingNavy, ob: stSaplingOrangeBand, gb: stSaplingGreenBand, nb: stSaplingNavyBand, thin: stSaplingThin },
  { row: 3, col: 2, o: stSeedlingOrange, g: stSeedlingGreen, n: stSeedlingNavy, ob: stSeedlingOrangeBand, gb: stSeedlingGreenBand, nb: stSeedlingNavyBand, thin: stSeedlingThin }
];

const pts = arr => arr.map(p => ({ x: p[0], y: p[1] }));
const fig = document.getElementById('fig');

function addDiv(cls, html, style) {
  const d = document.createElement('div');
  d.className = cls;
  d.innerHTML = html;
  Object.assign(d.style, style);
  fig.appendChild(d);
  return d;
}

// grey frame round the panel, as in ggplot
const panelBorder = {
  id: 'panelBorder',
  afterDatasetsDraw(chart) {
    const a = chart.chartArea, c = chart.ctx;
    c.save();
    c.strokeStyle = '#b3b3b3';
    c.lineWidth = 1.2;
    c.strokeRect(a.left, a.top, a.right - a.left, a.bottom - a.top);
    c.restore();
  }
};

// padding large enough that tick labels never push the plot area in
const Y_W = 100, PAD_T = 24, PAD_R = 20, PAD_B = 20;

function buildDatasets(p) {
  const ds = [];
  p.thin.forEach(t => ds.push({
    data: pts(t[1]), borderColor: THIN[t[0]], borderWidth: 1.5, pointRadius: 0, fill: false, order: 5
  }));
  ['o', 'g', 'n'].forEach(k => {
    const band = p[k + 'b'];
    ds.push({ data: band.map(b => ({ x: b[0], y: b[2] })), borderWidth: 0, pointRadius: 0,
              backgroundColor: BAND[k], fill: '+1', order: 4 });
    ds.push({ data: band.map(b => ({ x: b[0], y: b[1] })), borderWidth: 0, pointRadius: 0,
              fill: false, order: 4 });
  });
  ds.push({ data: pts(p.o), borderColor: LINE.o, borderWidth: 4.2, pointRadius: 0, fill: false, order: 2 });
  ds.push({ data: pts(p.g), borderColor: LINE.g, borderWidth: 4.2, pointRadius: 0, fill: false, order: 1 });
  ds.push({ data: pts(p.n), borderColor: LINE.n, borderWidth: 4.2, pointRadius: 0, fill: false, order: 0 });
  return ds;
}

function tickList(major, minor) {
  return major.concat(minor).sort((a, b) => a - b);
}

panels.forEach(p => {
  const isProp = p.row > 0;
  const major = isProp ? propMajor : p.major;
  const minor = isProp ? propMinor : p.minor;
  const fmt = isProp ? propFmt : p.fmt;
  const showX = p.row === 0 || p.row === 3;
  const xH = showX ? 40 : 0;

  const cv = document.createElement('canvas');
  const w = Y_W + colWidth[p.col] + PAD_R;
  const h = PAD_T + rowHeight[p.row] + xH + PAD_B;
  cv.width = w; cv.height = h;
  cv.style.left = (colLeft[p.col] - Y_W) + 'px';
  cv.style.top = (rowTop[p.row] - PAD_T) + 'px';
  fig.appendChild(cv);

  const isMajorY = v => major.some(m => Math.abs(m - v) < 1e-9);
  const isMajorX = v => xMajor.includes(v);

  new Chart(cv.getContext('2d'), {
    type: 'line',
    data: { datasets: buildDatasets(p) },
    options: {
      responsive: false,
      animation: false,
      layout: { padding: { top: PAD_T, right: PAD_R, bottom: PAD_B, left: 0 } },
      plugins: { legend: { display: false }, tooltip: { enabled: false } },
      elements: { line: { tension: 0 } },
      scales: {
        x: {
          type: 'linear', min: -4, max: 84,
          afterBuildTicks: s => { s.ticks = tickList(xMajor, xMinor).map(v => ({ value: v })); },
          afterFit: s => { s.height = xH; },
          border: { display: false },
          grid: {
            color: c => isMajorX(c.tick.value) ? '#ebebeb' : '#f4f4f4',
            lineWidth: c => isMajorX(c.tick.value) ? 1.2 : 0.7,
            drawTicks: showX, tickLength: 4,
            tickColor: c => isMajorX(c.tick.value) ? '#666' : 'rgba(0,0,0,0)'
          },
          ticks: {
            display: showX, autoSkip: false, maxRotation: 0, padding: 5,
            color: '#4d4d4d', font: { family: 'Liberation Sans', size: 21.5 },
            callback: v => isMajorX(v) ? String(v) : ''
          }
        },
        y: {
          type: 'linear', min: isProp ? -0.05 : p.yMin, max: isProp ? 1.05 : p.yMax,
          afterBuildTicks: s => { s.ticks = tickList(major, minor).map(v => ({ value: v })); },
          afterFit: s => { s.width = Y_W; },
          border: { display: false },
          grid: {
            color: c => isMajorY(c.tick.value) ? '#ebebeb' : '#f4f4f4',
            lineWidth: c => isMajorY(c.tick.value) ? 1.2 : 0.7,
            drawTicks: true, tickLength: 4,
            tickColor: c => isMajorY(c.tick.value) ? '#666' : 'rgba(0,0,0,0)'
          },
          ticks: {
            autoSkip: false, padding: 5,
            color: '#4d4d4d', font: { family: 'Liberation Sans', size: 21.5 },
            callback: v => isMajorY(v) ? fmt(v) : ''
          }
        }
      }
    },
    plugins: [panelBorder]
  });

  const cx = colLeft[p.col] + colWidth[p.col] / 2;
  if (p.row === 0) {
    addDiv('txt ctr', colTitles[p.col], { left: (cx - 200) + 'px', width: '400px', top: '5px' });
    addDiv('txt', panelTags[p.col], { left: (colLeft[p.col] + 12) + 'px', top: '41px' });
  } else {
    addDiv('strip', stripNames[p.row - 1], {
      left: colLeft[p.col] + 'px', width: colWidth[p.col] + 'px',
      top: stripTop[p.row] + 'px', height: (rowTop[p.row] - stripTop[p.row]) + 'px'
    });
  }
  if (p.row === 3) {
    addDiv('txt ctr', 'time since sampling (years)', { left: (cx - 200) + 'px', width: '400px', top: '1145px' });
  }
});

addDiv('rot', 'density (stems ha<sup>−1</sup>)', { left: '28px', top: '255px' });
addDiv('rot', 'density proportion', { left: '22px', top: '840px' });
</script>
</body>
</html>
